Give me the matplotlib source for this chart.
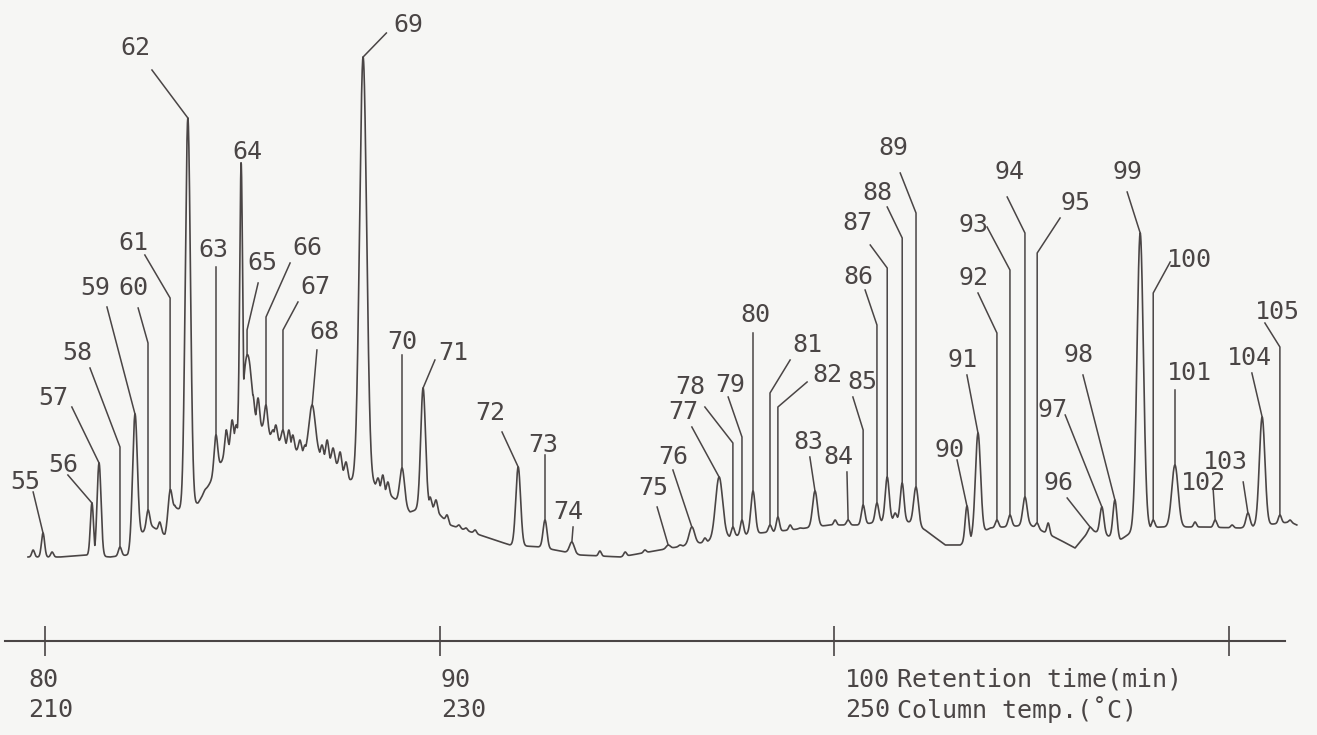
import numpy as np
import matplotlib.pyplot as plt

plt.rcParams['font.family'] = ['DejaVu Sans Mono']

INK = '#4a4545'
PAPER = '#f6f6f4'

# peak table: number, retention time (min), apex level, width (sigma, min)
peak_no = list(range(55, 106))
peak_rt = [79.95, 81.19, 81.37, 81.90, 82.28, 82.61, 83.17, 83.62, 84.33, 84.97,
           85.12, 85.60, 86.03, 86.77, 88.06, 89.05, 89.58, 91.99, 92.67, 93.35,
           95.79, 96.39, 97.08, 97.43, 97.66, 97.94, 98.37, 98.57, 99.51, 100.35,
           100.73, 101.08, 101.34, 101.72, 102.07, 103.36, 103.64, 104.12, 104.45, 104.83,
           105.14, 106.48, 106.78, 107.11, 107.75, 108.08, 108.63, 109.65, 110.48, 110.84,
           111.29]
peak_top = [27, 57, 97, 13, 146, 50, 70, 442, 125, 397,
            205, 155, 130, 155, 503, 92, 172, 93, 40, 18,
            15, 33, 83, 33, 40, 69, 35, 43, 69, 40,
            55, 57, 83, 77, 73, 54, 127, 40, 45, 63,
            37, 33, 53, 60, 327, 40, 95, 40, 47, 143,
            45]
peak_sd = [0.04, 0.04, 0.05, 0.04, 0.06, 0.04, 0.05, 0.065, 0.045, 0.035,
           0.10, 0.04, 0.04, 0.08, 0.09, 0.06, 0.06, 0.06, 0.05, 0.06,
           0.05, 0.07, 0.09, 0.04, 0.04, 0.055, 0.04, 0.04, 0.06, 0.04,
           0.045, 0.045, 0.05, 0.045, 0.06, 0.045, 0.065, 0.04, 0.045, 0.055,
           0.04, 0.05, 0.05, 0.05, 0.08, 0.04, 0.08, 0.04, 0.05, 0.07,
           0.04]

# small unnumbered peaks (noise on the hump and baseline)
minor_rt = [79.70, 80.18, 82.91, 84.05, 84.59, 84.74, 84.84, 85.27, 85.40, 85.78,
            85.85, 86.18, 86.28, 86.46, 86.59, 87.02, 87.15, 87.30, 87.48, 87.63,
            88.44, 88.56, 88.69, 89.76, 89.91, 90.19, 90.49, 90.67, 90.90, 94.06,
            94.70, 95.20, 96.09, 96.72, 98.88, 99.13, 100.02, 101.54, 105.42, 109.14,
            110.08, 111.55]
minor_top = [10, 8, 38, 70, 130, 140, 135, 165, 162, 130,
             135, 130, 125, 120, 115, 115, 120, 112, 108, 98,
             82, 85, 78, 63, 60, 45, 35, 32, 30, 9,
             8, 10, 15, 22, 35, 32, 40, 47, 37, 38,
             35, 40]

# baseline (valley level)
base_rt = [79.57, 80.38, 81.01, 81.65, 82.10, 82.41, 82.66, 83.04, 83.29, 83.50,
           83.88, 84.18, 84.43, 84.69, 84.94, 85.19, 85.45, 85.70, 86.08, 86.46,
           86.97, 87.35, 87.73, 87.98, 88.36, 88.74, 89.25, 89.76, 90.26, 91.02,
           91.78, 92.54, 93.56, 94.57, 95.58, 96.60, 97.61, 98.88, 99.89, 100.65,
           101.67, 102.30, 102.81, 103.19, 103.95, 104.96, 105.72, 106.10, 106.48, 107.24,
           107.62, 108.25, 109.27, 110.28, 111.55, 111.72]
base_lvl = [3, 3, 5, 3, 5, 25, 35, 25, 53, 48,
            57, 77, 95, 115, 128, 145, 135, 125, 115, 108,
            105, 98, 80, 72, 75, 65, 48, 55, 35, 25,
            15, 13, 5, 3, 10, 17, 25, 30, 35, 35,
            42, 30, 15, 15, 32, 35, 20, 12, 30, 20,
            30, 33, 33, 32, 38, 35]

# label layout
lab_t = [79.50, 80.46, 80.20, 80.81, 81.27, 82.23, 82.23, 82.28, 84.26, 85.12,
         85.50, 86.64, 86.84, 87.09, 89.20, 89.05, 90.34, 91.28, 92.62, 93.25,
         95.41, 95.91, 96.17, 96.34, 97.36, 97.99, 99.31, 99.82, 99.33, 100.09,
         100.70, 100.60, 100.58, 101.08, 101.49, 102.93, 103.26, 103.52, 103.52, 104.45,
         106.10, 105.67, 105.54, 106.18, 107.44, 109.01, 109.01, 109.34, 109.90, 110.53,
         111.24]
lab_s = [78, 95, 162, 207, 272, 272, 317, 512, 310, 408,
         297, 312, 273, 228, 535, 218, 207, 147, 115, 48,
         72, 103, 148, 173, 175, 245, 215, 185, 118, 103,
         178, 283, 337, 367, 412, 110, 200, 282, 335, 388,
         357, 77, 150, 205, 388, 300, 187, 77, 98, 202,
         248]
lead_t = [79.70, 80.58, 80.68, 81.14, 81.57, 82.36, 82.53, 82.71, 84.33, 84.97,
          85.40, 86.21, 86.41, 86.89, 88.65, 89.05, 89.88, 91.58, 92.67, 93.38,
          95.51, 95.91, 96.39, 96.72, 97.31, 97.94, 98.88, 99.31, 99.38, 100.32,
          100.47, 100.78, 100.91, 101.34, 101.67, 103.11, 103.36, 103.64, 103.87, 104.38,
          105.72, 105.90, 105.85, 106.30, 107.42, 108.51, 108.63, 109.60, 110.36, 110.58,
          110.91]
lead_s = [68, 85, 153, 192, 253, 252, 305, 490, 293, 395,
          277, 297, 258, 210, 527, 205, 200, 128, 105, 33,
          53, 90, 133, 153, 163, 227, 200, 178, 103, 88,
          163, 270, 315, 353, 387, 100, 185, 267, 333, 363,
          342, 62, 145, 185, 368, 298, 170, 70, 78, 187,
          237]
knee_s = [None, None, None, 113, None, 217, 262, None, None, None,
          230, 243, 230, None, None, None, None, None, None, None,
          None, None, None, 117, 123, None, 167, 153, None, None,
          130, 235, 292, 322, 347, None, None, 227, 290, 327,
          307, None, None, None, None, 267, None, None, None, None,
          213]

ticks = [80, 90, 100, 110]
time_lbl = ['80', '90', '100']
temp_lbl = ['210', '230', '250']
tick_lbl_t = [79.57, 90.03, 100.27]


def build_trace(t):
    base = np.interp(t, base_rt, base_lvl)
    sig = base.copy()
    for rt, top, sd in zip(peak_rt + minor_rt, peak_top + minor_top,
                           peak_sd + [0.035] * len(minor_rt)):
        h = max(top - np.interp(rt, base_rt, base_lvl), 0)
        sig = np.maximum(sig, base + h * np.exp(-0.5 * ((t - rt) / sd) ** 2))
    return sig


fig = plt.figure(figsize=(13.17, 7.35), dpi=100)
fig.patch.set_facecolor(PAPER)
ax = fig.add_axes([0, 0, 1, 1])
ax.set_facecolor(PAPER)
ax.set_xlim(78.86, 112.23)
ax.set_ylim(-175, 560)

t = np.arange(base_rt[0], base_rt[-1], 0.004)
ax.plot(t, build_trace(t), color=INK, lw=1.2)

for i, n in enumerate(peak_no):
    rt, top = peak_rt[i], peak_top[i]
    if knee_s[i] is None:
        xs, ys = [lead_t[i], rt], [lead_s[i], top]
    else:
        xs, ys = [lead_t[i], rt, rt], [lead_s[i], knee_s[i], top]
    ax.plot(xs, ys, color=INK, lw=1.1)
    ax.text(lab_t[i], lab_s[i], str(n), ha='center', va='center',
            fontsize=18, color=INK)

# time axis
for side in ['top', 'right', 'left']:
    ax.spines[side].set_visible(False)
ax.spines['bottom'].set_position(('data', -81))
ax.spines['bottom'].set_bounds(78.99, 111.42)
ax.spines['bottom'].set_color(INK)
ax.spines['bottom'].set_linewidth(1.5)
ax.set_xticks(ticks)
ax.set_xticklabels([])
ax.tick_params(axis='x', direction='inout', length=22, width=1.2, color=INK)
ax.set_yticks([])

for x, a, b in zip(tick_lbl_t, time_lbl, temp_lbl):
    ax.text(x, -120, a, ha='left', va='center', fontsize=18, color=INK)
    ax.text(x, -150, b, ha='left', va='center', fontsize=18, color=INK)
ax.text(101.59, -120, 'Retention time(min)', ha='left', va='center',
        fontsize=18, color=INK)
ax.text(101.59, -150, 'Column temp.(\u02daC)', ha='left', va='center',
        fontsize=18, color=INK)

fig.savefig('out.png', dpi=100, facecolor=PAPER)
